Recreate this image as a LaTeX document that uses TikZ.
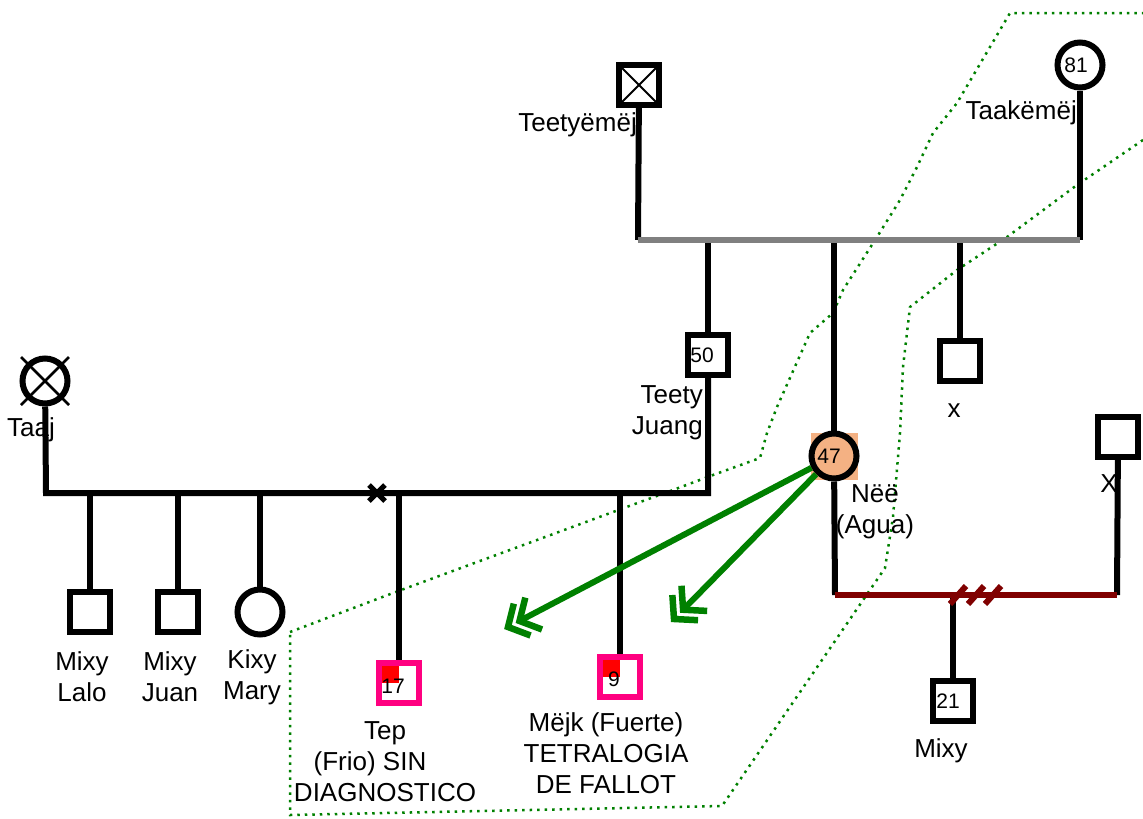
\documentclass[tikz,border=0pt]{standalone}
\usepackage{fontspec}
\setmainfont{Liberation Sans}
\usetikzlibrary{calc}
\definecolor{gline}{RGB}{128,128,128}
\definecolor{dred}{RGB}{128,0,0}
\definecolor{pinkb}{RGB}{255,0,128}
\definecolor{gr}{RGB}{0,128,0}
\definecolor{orng}{RGB}{244,177,131}
\begin{document}
\begin{tikzpicture}[x=1pt,y=-1pt,
  lw/.style={line width=6pt, draw=black},
  sq/.style={rectangle, draw=black, line width=6pt, minimum size=40pt, inner sep=0pt, fill=white},
  psq/.style={rectangle, draw=pinkb, line width=6pt, minimum size=40pt, inner sep=0pt, fill=white},
  ci/.style={circle, draw=black, line width=6pt, minimum size=45pt, inner sep=0pt, fill=white},
  lbl/.style={font=\fontsize{26}{31}\selectfont, align=center, inner sep=0pt},
  num/.style={font=\fontsize{21}{25}\selectfont, inner sep=0pt},
  zone/.style={draw=gr, line width=2.5pt, dash pattern=on 2.5pt off 5pt},
  garrow/.style={draw=gr, line width=6pt},
  chev/.style={draw=gr, line width=6.5pt, miter limit=4}
]
\useasboundingbox (0,0) rectangle (1143,819);

% zone outline
\draw[zone] (290,632) -- (393,593) -- (613,512) -- (673,490) -- (713,475) -- (760,458) -- (767,433) -- (777,407) -- (810,333) -- (833,313) -- (843,290) -- (877,237) -- (900,200) -- (917,167) -- (933,133) -- (957,103) -- (1010,13) -- (1143,13);
\draw[zone] (1143,140) -- (1077,185) -- (1007,237) -- (957,270) -- (910,307) -- (903,367) -- (900,433) -- (893,517) -- (885,568) -- (722,806) -- (290,815) -- (290,632);

% coordinates
\coordinate (m1a) at (638,240);
\coordinate (m1b) at (1080,240);
\coordinate (h1a) at (46,493);
\coordinate (h1b) at (708,493);
\coordinate (r1) at (835,595);
\coordinate (r2) at (1117,595);
\coordinate (a1) at (508,627);
\coordinate (a2) at (674,619);

% nodes
\node[sq] (tee) at (639,85) {};
\node[ci] (taa) at (1080,65) {};
\node[sq] (n50) at (708,355) {};
\node[fill=orng, minimum size=47pt, inner sep=0pt] (bg47) at (834,456) {};
\node[ci, fill=none] (n47) at (834,456) {};
\node[sq] (nx) at (960,361) {};
\node[sq] (xsq) at (1118,437) {};
\node[sq] (n21) at (953,701) {};
\node[ci] (taaj) at (45,381) {};
\node[sq] (c1) at (90,612) {};
\node[sq] (c2) at (178,612) {};
\node[ci] (c3) at (260,612) {};
\node[psq] (p17) at (399,683) {};
\node[psq] (p9) at (620,677) {};

% connectors top family
\draw[lw] (tee) -- (m1a);
\draw[lw] (taa) -- (m1b);
\draw[lw] (m1a -| n50) -- (n50);
\draw[lw] (m1a -| n47) -- (n47);
\draw[lw] (m1a -| nx) -- (nx);
\draw[line width=6pt, draw=gline] (m1a) -- (m1b);

% left family
\draw[lw] (taaj) -- (h1a) -- (h1b) -- (n50);
\draw[lw] (h1a -| c1) -- (c1);
\draw[lw] (h1a -| c2) -- (c2);
\draw[lw] (h1a -| c3) -- (c3);
\draw[lw] (h1a -| p17) -- (p17);
\draw[lw] (h1a -| p9) -- (p9);
\draw[line width=5pt] (369,485) -- (385,501) (369,501) -- (385,485);

% right family
\draw[lw] (n47) -- (r1);
\draw[lw] (xsq) -- (r2);
\draw[lw] (r1 -| n21) -- (n21);
\draw[line width=6pt, draw=dred] (r1) -- (r2);
\draw[line width=6pt, draw=dred] (950,604) -- (966,586) (968,604) -- (984,586) (985,604) -- (1001,586);

% symbol details
\draw[line width=2pt] ([shift={(-17,-17)}]tee.center) -- ([shift={(17,17)}]tee.center)
  ([shift={(-17,17)}]tee.center) -- ([shift={(17,-17)}]tee.center);
\draw[line width=2.5pt] ([shift={(-24,-24)}]taaj.center) -- ([shift={(24,24)}]taaj.center)
  ([shift={(-24,24)}]taaj.center) -- ([shift={(24,-24)}]taaj.center);

% pink boxes
\fill[red] ([shift={(-17,-17)}]p17.center) rectangle (p17.center);
\fill[red] ([shift={(-17,-17)}]p9.center) rectangle (p9.center);

% numbers
\node[num] at ([shift={(-4,0)}]taa.center) {81};
\node[num] at ([shift={(-6,0)}]n50.center) {50};
\node[num] at ([shift={(-5,0)}]n47.center) {47};
\node[num] at ([shift={(-5,0)}]n21.center) {21};
\node[num] at ([shift={(-6,3)}]p17.center) {17};
\node[num] at ([shift={(-6,2)}]p9.center) {9};

% green arrows with double chevron heads
\coordinate (a1b) at ($(a1)!13pt!(n47.center)$);
\coordinate (a2b) at ($(a2)!13pt!(n47.center)$);
\draw[garrow] (n47) -- (a1b);
\draw[garrow] (n47) -- (a2b);
\foreach \t in {a1,a1b,a2,a2b}{
  \coordinate (bb) at ($(\t)!16pt!(n47.center)$);
  \draw[chev] ($(bb)!18pt!90:(\t)$) -- (\t) -- ($(bb)!18pt!-90:(\t)$);
}

% labels
\node[lbl, anchor=base east] (ltee) at (637,131) {Teetyëmëj};
\node[lbl, anchor=base east] (ltaa) at (1077,119) {Taakëmëj};
\node[lbl, anchor=base west] (ltaaj) at (7,436) {Taaj};
\node[lbl, align=right, anchor=east] (l50) at (703,413) {Teety\\Juang};
\node[lbl] (l47) at (875,512) {Nëë\\(Agua)};
\node[lbl, anchor=base] (lx) at (954,417) {x};
\node[lbl, anchor=base] (lX) at (1109,492) {X};
\node[lbl, anchor=base] (l21) at (941,757) {Mixy};
\node[lbl] (lc1) at (82,677) {Mixy\\Lalo};
\node[lbl] (lc2) at (170,677) {Mixy\\Juan};
\node[lbl] (lc3) at (252,677) {Kixy\\Mary};
\node[lbl] (l17) at (385,762) {Tep\\(Frio) SIN\hbox to 30pt{}\\DIAGNOSTICO};
\node[lbl] (l9) at (606,753) {Mëjk (Fuerte)\\TETRALOGIA\\DE FALLOT};
\end{tikzpicture}
\end{document}
